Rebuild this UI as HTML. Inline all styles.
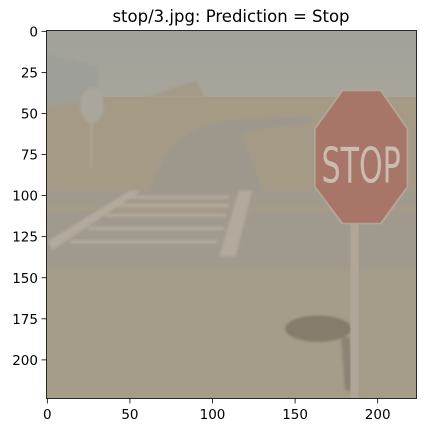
<!DOCTYPE html>
<html><head><meta charset="utf-8"><style>
body{margin:0;background:#fff;width:425px;height:433px;overflow:hidden}
text{font-family:"DejaVu Sans","Liberation Sans",sans-serif;fill:#000}
</style></head><body>
<svg id="chart" width="425" height="433">
<text x="231" y="22" font-size="16.5" text-anchor="middle">stop/3.jpg: Prediction = Stop</text>
<svg x="46.5" y="30.5" width="370" height="368" viewBox="-0.5 -0.5 224 224" preserveAspectRatio="none">
<defs><linearGradient id="sky" x1="0" y1="0" x2="0" y2="1"><stop offset="0" stop-color="#a1a29b"/><stop offset="1" stop-color="#a7a59b"/></linearGradient>
<filter id="bl" x="-0.2" y="-0.2" width="1.4" height="1.4"><feGaussianBlur stdDeviation="0.8"/></filter></defs>
<rect x="-0.5" y="-0.5" width="224" height="224" fill="#a69c8a"/>
<rect x="-0.5" y="-0.5" width="224" height="42" fill="url(#sky)"/>
<rect x="-0.5" y="40" width="224" height="57" fill="#a59a86"/>
<g filter="url(#bl)">
<polygon points="-0.5,14 30,21 30,43 -0.5,45" fill="#9e9f99"/>
<polygon points="60,40 90,30 95,40" fill="#a49a88"/>
<path d="M62,97 C72,70 80,60 110,54 L160,52 L160,56 C140,58 120,60 117,64 C125,80 128,90 130,97 Z" fill="#9e978c"/>
<rect x="-0.5" y="97" width="224" height="48" fill="#a0998d"/>
<rect x="-0.5" y="107" width="224" height="1.2" fill="#a99e80"/>
<g fill="#b1aa9d">
<polygon points="0,128 50,97 57,97 3,133"/>
<rect x="50" y="100" width="60" height="2"/>
<rect x="42" y="105" width="68" height="2"/>
<rect x="35" y="111" width="73" height="2"/>
<rect x="25" y="119" width="82" height="2"/>
<rect x="14" y="127" width="89" height="2"/>
<polygon points="116,97 124,97 114,137 104,137"/>
</g>
<ellipse cx="164" cy="181" rx="20" ry="8" fill="#857b6c"/>
<polygon points="178,186 183,186 186,220 180,218" fill="#8e8474"/>
<ellipse cx="27" cy="45" rx="7" ry="11" fill="#aaa59d"/>
<rect x="26" y="55" width="1.5" height="28" fill="#b0a48c"/>
</g>
<rect x="183.5" y="117" width="5" height="107" fill="#b0a697"/>
<polygon points="178,35.5 202.5,35.5 218.5,59 218.5,95 202.5,117.5 178,117.5 161.5,95 161.5,59" fill="#b3a597"/>
<polygon points="179,36.5 201.5,36.5 217.5,59.5 217.5,94.5 201.5,116.5 179,116.5 162.5,94.5 162.5,59.5" fill="#a77668"/>
<text x="190" y="92" font-family="Liberation Sans Narrow,Liberation Sans,sans-serif" font-size="30" text-anchor="middle" textLength="48" lengthAdjust="spacingAndGlyphs" style="fill:#cbbcb0">STOP</text>
</svg>
<rect x="46.5" y="30.5" width="370" height="368" fill="none" stroke="#000" stroke-width="0.8"/>
<g id="ticks"></g>
</svg>
<script>
const xTicks=[0,50,100,150,200];
const yTicks=[0,25,50,75,100,125,150,175,200];
const x0=46.5,y0=30.5,s=370/224,sy=368/224;
const g=document.getElementById('ticks');const NS='http://www.w3.org/2000/svg';
xTicks.forEach(v=>{const X=x0+(v+0.5)*s;
const l=document.createElementNS(NS,'line');l.setAttribute('x1',X);l.setAttribute('x2',X);l.setAttribute('y1',398.5);l.setAttribute('y2',403.5);l.setAttribute('stroke','#000');l.setAttribute('stroke-width','0.8');

g.appendChild(l);
const t=document.createElementNS(NS,'text');t.setAttribute('x',X);t.setAttribute('y',419);t.setAttribute('font-size','13.5');t.setAttribute('text-anchor','middle');t.textContent=v;

g.appendChild(t);});
yTicks.forEach(v=>{const Y=y0+(v+0.5)*sy;
const l=document.createElementNS(NS,'line');l.setAttribute('x1',41.5);l.setAttribute('x2',46.5);l.setAttribute('y1',Y);l.setAttribute('y2',Y);l.setAttribute('stroke','#000');l.setAttribute('stroke-width','0.8');

g.appendChild(l);
const t=document.createElementNS(NS,'text');t.setAttribute('x',38);t.setAttribute('y',Y+5);t.setAttribute('font-size','13.5');t.setAttribute('text-anchor','end');t.textContent=v;

g.appendChild(t);});
</script>
</body></html>
